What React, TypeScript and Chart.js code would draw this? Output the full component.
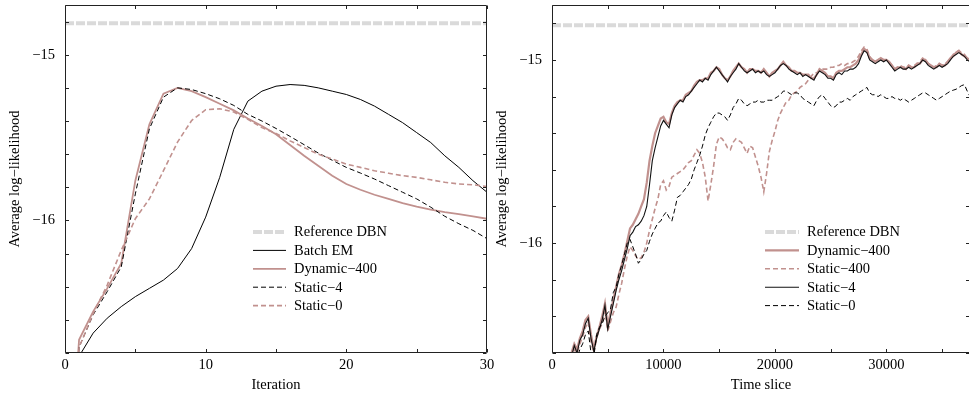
import React, { useEffect, useRef } from "react";
import { Chart, registerables } from "chart.js";

Chart.register(...registerables);

const FONT = '"Liberation Serif", "Times New Roman", serif';
const FONT_SIZE = 14.5;
const PINK = "rgb(193,145,142)";
const REF_GRAY = "rgb(218,218,218)";
const INK = "#000";

// ---------- Left panel: log-likelihood vs EM iteration ----------
const ITERATIONS = [0, 1, 2, 3, 4, 5, 6, 7, 8, 9, 10, 11, 12, 13, 14, 15, 16, 17, 18, 19, 20, 21, 22, 23, 24, 25, 26, 27, 28, 29, 30];
const BATCH_EM = [-18.0, -16.82, -16.68, -16.59, -16.52, -16.46, -16.41, -16.36, -16.29, -16.17, -15.98, -15.74, -15.45, -15.28, -15.22, -15.19, -15.18, -15.185, -15.2, -15.22, -15.24, -15.27, -15.31, -15.36, -15.41, -15.47, -15.53, -15.61, -15.68, -15.76, -15.83];
const DYNAMIC_400_ITER = [-18.0, -16.72, -16.55, -16.41, -16.26, -15.76, -15.42, -15.235, -15.2, -15.22, -15.256, -15.296, -15.336, -15.385, -15.43, -15.48, -15.545, -15.61, -15.67, -15.73, -15.78, -15.815, -15.845, -15.87, -15.895, -15.917, -15.935, -15.95, -15.962, -15.976, -15.99];
const STATIC_4_ITER = [-18.0, -16.765, -16.57, -16.43, -16.28, -15.84, -15.447, -15.256, -15.2, -15.21, -15.235, -15.266, -15.306, -15.36, -15.4, -15.445, -15.493, -15.543, -15.593, -15.637, -15.68, -15.714, -15.75, -15.79, -15.83, -15.87, -15.92, -15.975, -16.02, -16.06, -16.11];
const STATIC_0_ITER = [-18.0, -16.765, -16.563, -16.39, -16.18, -15.99, -15.87, -15.7, -15.527, -15.397, -15.332, -15.326, -15.346, -15.39, -15.44, -15.475, -15.52, -15.56, -15.6, -15.63, -15.66, -15.68, -15.7, -15.715, -15.73, -15.74, -15.755, -15.77, -15.78, -15.785, -15.795];
const REF_X_LEFT = [0, 30];
const REF_LEFT = [-14.81, -14.81];

const LEFT_X_TICKS = [0, 5, 10, 15, 20, 25, 30];
const LEFT_X_LABELED = [0, 10, 20, 30];
const LEFT_Y_TICKS = [-16.8, -16.6, -16.4, -16.2, -16, -15.8, -15.6, -15.4, -15.2, -15, -14.8];
const LEFT_Y_LABELED = [-16, -15];

// ---------- Right panel: log-likelihood vs time slice ----------
const TIME_SLICES = [
  1500, 1750, 2000, 2250, 2500, 2750, 3000, 3250, 3500, 3750,
  4000, 4250, 4500, 4750, 5000, 5250, 5500, 5750, 6000, 6250,
  6500, 6750, 7000, 7250, 7500, 7750, 8000, 8250, 8500, 8750,
  9000, 9250, 9500, 9750, 10000, 10250, 10500, 10750, 11000, 11250,
  11500, 11750, 12000, 12250, 12500, 12750, 13000, 13250, 13500, 13750,
  14000, 14250, 14500, 14750, 15000, 15250, 15500, 15750, 16000, 16250,
  16500, 16750, 17000, 17250, 17500, 17750, 18000, 18250, 18500, 18750,
  19000, 19250, 19500, 19750, 20000, 20250, 20500, 20750, 21000, 21250,
  21500, 21750, 22000, 22250, 22500, 22750, 23000, 23250, 23500, 23750,
  24000, 24250, 24500, 24750, 25000, 25250, 25500, 25750, 26000, 26250,
  26500, 26750, 27000, 27250, 27500, 27750, 28000, 28250, 28500, 28750,
  29000, 29250, 29500, 29750, 30000, 30250, 30500, 30750, 31000, 31250,
  31500, 31750, 32000, 32250, 32500, 32750, 33000, 33250, 33500, 33750,
  34000, 34250, 34500, 34750, 35000, 35250, 35500, 35750, 36000, 36250,
  36500, 36750, 37000, 37250, 37500,
];
const DYNAMIC_400_TIME = [
  -16.68, -16.6, -16.55, -16.58, -16.52, -16.48, -16.42, -16.4, -16.5, -16.58,
  -16.51, -16.46, -16.4, -16.33, -16.45, -16.38, -16.31, -16.24, -16.17, -16.12,
  -16.06, -15.99, -15.92, -15.9, -15.87, -15.84, -15.8, -15.76, -15.67, -15.55,
  -15.47, -15.4, -15.36, -15.32, -15.31, -15.34, -15.35, -15.29, -15.25, -15.23,
  -15.22, -15.22, -15.19, -15.18, -15.17, -15.14, -15.12, -15.11, -15.11, -15.1,
  -15.1, -15.07, -15.06, -15.04, -15.05, -15.08, -15.1, -15.11, -15.09, -15.06,
  -15.04, -15.02, -15.04, -15.05, -15.07, -15.05, -15.05, -15.06, -15.06, -15.07,
  -15.05, -15.07, -15.09, -15.07, -15.06, -15.05, -15.03, -15.01, -15.03, -15.04,
  -15.06, -15.06, -15.07, -15.07, -15.08, -15.08, -15.08, -15.1, -15.1, -15.08,
  -15.05, -15.06, -15.07, -15.09, -15.09, -15.1, -15.07, -15.06, -15.06, -15.05,
  -15.04, -15.04, -15.03, -15.02, -15.0, -14.97, -14.94, -14.95, -14.99, -15.0,
  -15.01, -15.0, -14.99, -15.0, -15.0, -15.01, -15.03, -15.05, -15.04, -15.04,
  -15.04, -15.05, -15.03, -15.04, -15.04, -15.02, -15.02, -15.0, -15.0, -15.02,
  -15.03, -15.04, -15.04, -15.02, -15.03, -15.03, -15.01, -14.99, -14.98, -14.96,
  -14.95, -14.97, -14.98, -14.99, -15.0,
];
const STATIC_400_TIME = [
  -16.72, -16.64, -16.58, -16.6, -16.55, -16.51, -16.46, -16.43, -16.54, -16.6,
  -16.52, -16.47, -16.44, -16.37, -16.48, -16.43, -16.38, -16.35, -16.28, -16.22,
  -16.14, -16.07, -16.02, -16.04, -16.07, -16.09, -16.08, -16.05, -16.0, -15.93,
  -15.87, -15.81, -15.76, -15.68, -15.66, -15.71, -15.69, -15.64, -15.63, -15.62,
  -15.61, -15.6, -15.58, -15.56, -15.55, -15.52, -15.49, -15.51, -15.56, -15.64,
  -15.77, -15.68, -15.58, -15.46, -15.42, -15.43, -15.45, -15.48, -15.49, -15.45,
  -15.43, -15.44, -15.45, -15.48, -15.51, -15.47, -15.48, -15.53, -15.58, -15.64,
  -15.72, -15.62, -15.5, -15.44, -15.39, -15.33, -15.29, -15.26, -15.23, -15.22,
  -15.19, -15.18, -15.17, -15.15, -15.14, -15.13, -15.11, -15.09, -15.07, -15.07,
  -15.06, -15.05, -15.05, -15.05, -15.04, -15.04, -15.03, -15.03, -15.02, -15.03,
  -15.02, -15.02, -15.01, -15.0, -14.98, -14.95, -14.93, -14.94, -14.98, -15.0,
  -15.01, -15.0, -14.99, -15.0, -15.0, -15.01, -15.03, -15.05, -15.04, -15.03,
  -15.04, -15.04, -15.03, -15.04, -15.03, -15.02, -15.01, -14.99, -15.0, -15.02,
  -15.03, -15.04, -15.03, -15.02, -15.03, -15.02, -15.01, -14.99, -14.97, -14.96,
  -14.95, -14.96, -14.97, -14.99, -15.0,
];
const STATIC_4_TIME = [
  -16.7, -16.62, -16.56, -16.6, -16.53, -16.5, -16.44, -16.41, -16.52, -16.59,
  -16.52, -16.47, -16.42, -16.34, -16.47, -16.4, -16.33, -16.26, -16.2, -16.15,
  -16.09, -16.03, -15.96, -15.94, -15.91, -15.9, -15.88, -15.85, -15.8, -15.68,
  -15.55, -15.48, -15.42, -15.36, -15.33, -15.35, -15.37, -15.3, -15.26, -15.24,
  -15.22, -15.23, -15.2, -15.19, -15.17, -15.15, -15.13, -15.11, -15.12, -15.1,
  -15.11, -15.08, -15.06, -15.04, -15.06, -15.08, -15.1, -15.12, -15.09, -15.07,
  -15.05, -15.02, -15.04, -15.06, -15.07, -15.06, -15.05, -15.07, -15.06, -15.07,
  -15.06, -15.08, -15.09, -15.08, -15.07, -15.05, -15.03, -15.02, -15.03, -15.05,
  -15.06, -15.07, -15.08, -15.07, -15.09, -15.08, -15.09, -15.1, -15.11, -15.08,
  -15.06, -15.07, -15.08, -15.1, -15.1, -15.11, -15.08, -15.07, -15.08, -15.06,
  -15.06, -15.05, -15.05, -15.04, -15.02, -14.98, -14.95, -14.96, -15.0, -15.01,
  -15.02, -15.01, -15.0, -15.01, -15.0, -15.02, -15.04, -15.06, -15.05, -15.04,
  -15.05, -15.05, -15.04, -15.05, -15.04, -15.03, -15.02, -15.0, -15.01, -15.03,
  -15.04, -15.05, -15.04, -15.03, -15.04, -15.03, -15.02, -15.0, -14.98, -14.97,
  -14.96, -14.97, -14.98, -15.0, -15.01,
];
const STATIC_0_TIME = [
  -16.75, -16.68, -16.62, -16.63, -16.58, -16.55, -16.5, -16.48, -16.6, -16.62,
  -16.5, -16.46, -16.44, -16.4, -16.38, -16.36, -16.27, -16.24, -16.17, -16.12,
  -16.06, -16.0, -15.98, -16.02, -16.06, -16.11, -16.09, -16.06, -16.04, -15.99,
  -15.95, -15.92, -15.89, -15.88, -15.85, -15.83, -15.86, -15.88, -15.82, -15.75,
  -15.74, -15.72, -15.7, -15.68, -15.65, -15.6, -15.56, -15.52, -15.47, -15.41,
  -15.37, -15.34, -15.31, -15.29, -15.29, -15.3, -15.31, -15.33, -15.3, -15.26,
  -15.24, -15.21, -15.22, -15.24, -15.25, -15.24, -15.23, -15.23, -15.22, -15.23,
  -15.23, -15.22, -15.22, -15.22, -15.21, -15.2, -15.19, -15.17, -15.17, -15.18,
  -15.19, -15.18, -15.18, -15.19, -15.21, -15.22, -15.23, -15.24, -15.25, -15.22,
  -15.2, -15.19, -15.21, -15.23, -15.25, -15.26, -15.25, -15.23, -15.23, -15.22,
  -15.21, -15.22, -15.2, -15.19, -15.18, -15.17, -15.16, -15.15, -15.18, -15.19,
  -15.19, -15.2, -15.19, -15.2, -15.21, -15.21, -15.2, -15.21, -15.21, -15.22,
  -15.21, -15.22, -15.23, -15.22, -15.21, -15.2, -15.19, -15.18, -15.18, -15.19,
  -15.2, -15.21, -15.22, -15.21, -15.2, -15.19, -15.18, -15.17, -15.165, -15.16,
  -15.15, -15.14, -15.135, -15.17, -15.2,
];
const REF_X_RIGHT = [0, 37500];
const REF_RIGHT = [-14.81, -14.81];

const RIGHT_X_TICKS = [0, 5000, 10000, 15000, 20000, 25000, 30000, 35000];
const RIGHT_X_LABELED = [0, 10000, 20000, 30000];
const RIGHT_Y_TICKS = [-16.6, -16.4, -16.2, -16, -15.8, -15.6, -15.4, -15.2, -15, -14.8];
const RIGHT_Y_LABELED = [-16, -15];

// ---------- helpers ----------
const pts = (xs: number[], ys: number[]) => xs.map((x, i) => ({ x, y: ys[i] }));
const fmt = (v: number) => (v < 0 ? "\u2212" + Math.abs(v) : String(v));
const font = { family: FONT, size: FONT_SIZE };

const zeroPad = (s: any) => {
  s.paddingTop = 0;
  s.paddingBottom = 0;
  s.paddingLeft = 0;
  s.paddingRight = 0;
};

const framePlugin = {
  id: "frame",
  afterDatasetsDraw(chart: any) {
    const { ctx, chartArea } = chart;
    const { left, right, top, bottom } = chartArea;
    const xs = chart.scales.x;
    const ys = chart.scales.y;
    const L = Math.round(left) + 0.5;
    const R = Math.round(right) - 0.5;
    const T = Math.round(top) + 0.5;
    const B = Math.round(bottom) - 0.5;
    ctx.save();
    ctx.setLineDash([]);
    ctx.strokeStyle = "#222";
    ctx.lineWidth = 1;
    ctx.beginPath();
    ctx.moveTo(L, T);
    ctx.lineTo(R, T);
    ctx.lineTo(R, B);
    ctx.lineTo(L, B);
    ctx.closePath();
    ctx.stroke();
    const len = 3.5;
    ctx.beginPath();
    xs.ticks.forEach((t: any) => {
      const p = Math.round(xs.getPixelForValue(t.value)) + 0.5;
      ctx.moveTo(p, B);
      ctx.lineTo(p, B - len);
      ctx.moveTo(p, T);
      ctx.lineTo(p, T + len);
    });
    ys.ticks.forEach((t: any) => {
      const p = Math.round(ys.getPixelForValue(t.value)) + 0.5;
      ctx.moveTo(L, p);
      ctx.lineTo(L + len, p);
      ctx.moveTo(R, p);
      ctx.lineTo(R - len, p);
    });
    ctx.stroke();
    ctx.restore();
  },
};

const legendPlugin = {
  id: "lineLegend",
  afterDraw(chart: any, _args: any, opts: any) {
    const { ctx } = chart;
    ctx.save();
    ctx.font = `${FONT_SIZE}px ${FONT}`;
    ctx.textBaseline = "middle";
    ctx.textAlign = "left";
    chart.data.datasets.forEach((ds: any, i: number) => {
      const y = opts.y + i * opts.rowGap;
      ctx.beginPath();
      ctx.setLineDash(ds.borderDash || []);
      ctx.lineWidth = ds.borderWidth;
      ctx.strokeStyle = ds.borderColor;
      ctx.moveTo(opts.x0, y);
      ctx.lineTo(opts.x1, y);
      ctx.stroke();
      ctx.setLineDash([]);
      ctx.fillStyle = INK;
      ctx.fillText(ds.label, opts.textX, y + 0.5);
    });
    ctx.restore();
  },
};

function makeConfig(p: {
  datasets: any[];
  xMin: number;
  xMax: number;
  yMin: number;
  yMax: number;
  xTicks: number[];
  xLabeled: number[];
  yTicks: number[];
  yLabeled: number[];
  xTitle: string;
  yAxisWidth: number;
  yTitlePad: number;
  padRight: number;
  legend: any;
}): any {
  return {
    type: "line",
    data: { datasets: p.datasets },
    options: {
      responsive: false,
      animation: false,
      events: [],
      elements: { point: { radius: 0 }, line: { tension: 0, fill: false } },
      layout: { padding: { top: 5, right: p.padRight, left: 0, bottom: 0 } },
      scales: {
        x: {
          type: "linear",
          min: p.xMin,
          max: p.xMax,
          grid: { display: false, drawTicks: false },
          border: { display: false },
          afterBuildTicks: (s: any) => {
            s.ticks = p.xTicks.map((v) => ({ value: v }));
          },
          ticks: {
            autoSkip: false,
            maxRotation: 0,
            padding: 3,
            color: INK,
            font,
            callback: (v: number) => (p.xLabeled.includes(v) ? fmt(v) : ""),
          },
          title: { display: true, text: p.xTitle, color: INK, font, padding: { top: 0, bottom: 0 } },
          afterFit: (s: any) => {
            s.height = 41;
            zeroPad(s);
          },
        },
        y: {
          type: "linear",
          min: p.yMin,
          max: p.yMax,
          grid: { display: false, drawTicks: false },
          border: { display: false },
          afterBuildTicks: (s: any) => {
            s.ticks = p.yTicks.map((v) => ({ value: v }));
          },
          ticks: {
            autoSkip: false,
            padding: 10,
            color: INK,
            font,
            callback: (v: number) => (p.yLabeled.includes(v) ? fmt(v) : ""),
          },
          title: {
            display: true,
            text: "Average log\u2212likelihood",
            color: INK,
            font,
            padding: { top: p.yTitlePad, bottom: 0 },
          },
          afterFit: (s: any) => {
            s.width = p.yAxisWidth;
            zeroPad(s);
          },
        },
      },
      plugins: {
        legend: { display: false },
        tooltip: { enabled: false },
        lineLegend: p.legend,
      },
    },
    plugins: [framePlugin, legendPlugin],
  };
}

export default function App() {
  const leftRef = useRef<HTMLCanvasElement>(null);
  const rightRef = useRef<HTMLCanvasElement>(null);

  useEffect(() => {
    const left = new Chart(
      leftRef.current as HTMLCanvasElement,
      makeConfig({
        datasets: [
          { label: "Reference DBN", data: pts(REF_X_LEFT, REF_LEFT), borderColor: REF_GRAY, borderWidth: 4, borderDash: [9, 2], order: 5 },
          { label: "Batch EM", data: pts(ITERATIONS, BATCH_EM), borderColor: INK, borderWidth: 1, order: 4 },
          { label: "Dynamic\u2212400", data: pts(ITERATIONS, DYNAMIC_400_ITER), borderColor: PINK, borderWidth: 1.8, order: 3 },
          { label: "Static\u22124", data: pts(ITERATIONS, STATIC_4_ITER), borderColor: INK, borderWidth: 1, borderDash: [5, 3], order: 2 },
          { label: "Static\u22120", data: pts(ITERATIONS, STATIC_0_ITER), borderColor: PINK, borderWidth: 1.6, borderDash: [5, 3], order: 1 },
        ],
        xMin: 0,
        xMax: 30,
        yMin: -16.8,
        yMax: -14.7,
        xTicks: LEFT_X_TICKS,
        xLabeled: LEFT_X_LABELED,
        yTicks: LEFT_Y_TICKS,
        yLabeled: LEFT_Y_LABELED,
        xTitle: "Iteration",
        yAxisWidth: 65,
        yTitlePad: 6,
        padRight: 13,
        legend: { x0: 253, x1: 286, textX: 294, y: 232, rowGap: 18.4 },
      })
    );
    const right = new Chart(
      rightRef.current as HTMLCanvasElement,
      makeConfig({
        datasets: [
          { label: "Reference DBN", data: pts(REF_X_RIGHT, REF_RIGHT), borderColor: REF_GRAY, borderWidth: 4, borderDash: [9, 2], order: 5 },
          { label: "Dynamic\u2212400", data: pts(TIME_SLICES, DYNAMIC_400_TIME), borderColor: PINK, borderWidth: 2.2, order: 4 },
          { label: "Static\u2212400", data: pts(TIME_SLICES, STATIC_400_TIME), borderColor: PINK, borderWidth: 1.6, borderDash: [5, 3], order: 3 },
          { label: "Static\u22124", data: pts(TIME_SLICES, STATIC_4_TIME), borderColor: "#111", borderWidth: 1.1, order: 2 },
          { label: "Static\u22120", data: pts(TIME_SLICES, STATIC_0_TIME), borderColor: INK, borderWidth: 1, borderDash: [5, 3], order: 1 },
        ],
        xMin: 0,
        xMax: 37500,
        yMin: -16.6,
        yMax: -14.7,
        xTicks: RIGHT_X_TICKS,
        xLabeled: RIGHT_X_LABELED,
        yTicks: RIGHT_Y_TICKS,
        yLabeled: RIGHT_Y_LABELED,
        xTitle: "Time slice",
        yAxisWidth: 62,
        yTitlePad: 3,
        padRight: 2,
        legend: { x0: 275, x1: 309, textX: 317, y: 232, rowGap: 18.4 },
      })
    );
    return () => {
      left.destroy();
      right.destroy();
    };
  }, []);

  return (
    <div style={{ position: "fixed", left: 0, top: 0, width: 969, height: 394, overflow: "hidden", background: "#fff" }}>
      <canvas ref={leftRef} width={500} height={394} style={{ position: "absolute", left: 0, top: 0 }} />
      <canvas ref={rightRef} width={482} height={394} style={{ position: "absolute", left: 490, top: 0 }} />
    </div>
  );
}
